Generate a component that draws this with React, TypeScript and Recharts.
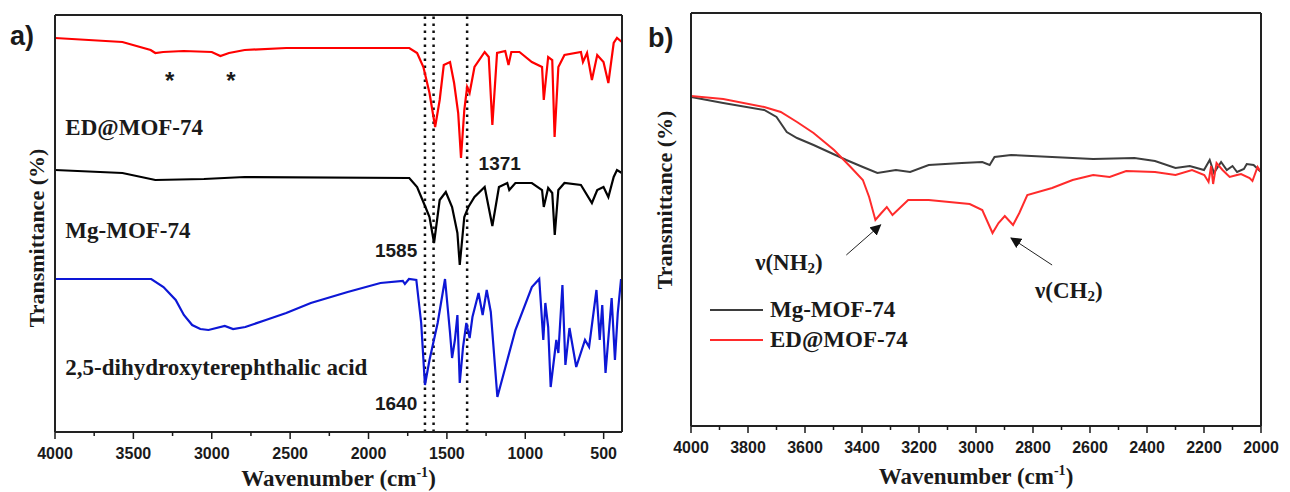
import React from "react";
import {
  LineChart,
  Line,
  XAxis,
  YAxis,
  ReferenceLine,
  ReferenceDot,
  Legend,
} from "recharts";

const SERIF = "'Liberation Serif', 'Times New Roman', serif";
const SANS = "'Liberation Sans', Arial, sans-serif";
const INK = "#1a1a1a";

// ---------- panel a: offset FTIR spectra (arbitrary transmittance units) ----------
const aDomain: [number, number] = [383, 4000];
const aYMax = 417;
const aMajorTicks = [4000, 3500, 3000, 2500, 2000, 1500, 1000, 500];
const aMinorTicks = [3750, 3250, 2750, 2250, 1750, 1250, 750];
const aMarkedBands = [1640, 1585, 1371];

const edWn = [4000, 3570, 3390, 3360, 3310, 3180, 3000, 2945, 2890, 2790, 2525, 2130, 1740, 1690, 1650, 1611, 1575, 1546, 1520, 1480, 1454, 1428, 1410, 1389, 1371, 1355, 1324, 1259, 1233, 1210, 1180, 1128, 1107, 1089, 1037, 958, 893, 882, 854, 828, 813, 789, 750, 645, 632, 606, 575, 541, 501, 470, 436, 415, 384];
const edT = [394, 390, 382, 379, 380, 381, 380, 376, 379, 382, 384, 384, 384, 379, 365, 339, 305, 332, 367, 370, 349, 319, 274, 322, 345, 339, 365, 380, 375, 307, 379, 381, 367, 380, 380, 370, 365, 332, 375, 372, 295, 365, 377, 380, 370, 379, 352, 377, 370, 349, 389, 394, 390];

const mgWn = [4000, 3570, 3360, 3050, 2790, 1740, 1690, 1637, 1611, 1582, 1546, 1507, 1467, 1433, 1418, 1389, 1363, 1324, 1259, 1210, 1168, 1115, 1102, 1063, 958, 893, 882, 854, 828, 812, 789, 750, 645, 575, 541, 501, 470, 436, 415, 384];
const mgT = [262, 259, 252, 253, 255, 254, 245, 225, 215, 189, 232, 240, 225, 199, 167, 215, 225, 235, 245, 206, 245, 249, 242, 249, 249, 242, 225, 244, 239, 197, 242, 249, 247, 229, 242, 245, 235, 255, 262, 259];

const acidWn = [4000, 3386, 3308, 3230, 3178, 3125, 3073, 3021, 2917, 2864, 2786, 2655, 2525, 2368, 2133, 1924, 1781, 1768, 1742, 1695, 1664, 1640, 1611, 1559, 1512, 1480, 1467, 1449, 1433, 1418, 1397, 1376, 1355, 1337, 1298, 1272, 1246, 1220, 1178, 1063, 958, 911, 885, 872, 854, 838, 802, 789, 763, 744, 718, 675, 619, 593, 546, 525, 509, 488, 449, 428, 410, 389];
const acidT = [153, 153, 145, 132, 117, 107, 103, 102, 106, 103, 105, 112, 119, 129, 140, 149, 151, 148, 153, 152, 109, 47, 72, 109, 153, 99, 74, 92, 117, 49, 85, 109, 94, 115, 139, 117, 142, 120, 35, 102, 145, 153, 92, 129, 105, 45, 92, 79, 147, 67, 104, 65, 92, 85, 142, 92, 127, 59, 134, 72, 119, 153];

// ---------- panel b: 4000-2000 cm-1 region ----------
const bDomain: [number, number] = [2000, 4000];
const bYDomain: [number, number] = [2, 415];
const bMajorTicks = [4000, 3800, 3600, 3400, 3200, 3000, 2800, 2600, 2400, 2200, 2000];
const bMinorTicks = [3900, 3700, 3500, 3300, 3100, 2900, 2700, 2500, 2300, 2100];
const bLegendOrder = ["Mg-MOF-74", "ED@MOF-74"];

const mgbWn = [4000, 3887, 3743, 3700, 3664, 3628, 3570, 3455, 3397, 3346, 3281, 3231, 3166, 3050, 2978, 2952, 2935, 2877, 2733, 2589, 2444, 2372, 2300, 2250, 2200, 2180, 2165, 2140, 2120, 2100, 2084, 2060, 2050, 2026, 2000];
const mgbT = [331, 325, 318, 311, 296, 290, 283, 268, 261, 255, 258, 256, 263, 265, 266, 263, 271, 273, 271, 269, 270, 267, 260, 262, 258, 268, 255, 266, 258, 262, 256, 259, 264, 263, 256];

const edbWn = [4000, 3887, 3743, 3685, 3628, 3570, 3498, 3440, 3397, 3375, 3353, 3332, 3313, 3293, 3238, 3166, 3094, 3022, 2978, 2942, 2921, 2899, 2870, 2848, 2820, 2733, 2661, 2589, 2531, 2473, 2372, 2300, 2242, 2199, 2184, 2175, 2168, 2156, 2135, 2110, 2084, 2070, 2040, 2030, 2012, 2000];
const edbT = [332, 329, 321, 316, 306, 295, 278, 261, 248, 231, 208, 215, 221, 213, 228, 228, 226, 224, 218, 195, 205, 212, 203, 215, 233, 240, 248, 253, 251, 257, 256, 253, 258, 253, 246, 262, 244, 265, 258, 251, 253, 254, 250, 247, 261, 256];

const zip = (wn: number[], t: number[]) => wn.map((w, i) => ({ wn: w, t: t[i] }));

const frameLine = { stroke: "#222222", strokeWidth: 2 };

function WaveTick(props: any) {
  const { x, y, payload, majors, labelDy } = props;
  const major = majors.includes(payload.value);
  return (
    <g>
      <line x1={x} x2={x} y1={y} y2={y + (major ? 7 : 4)} stroke={INK} strokeWidth={1.5} />
      {major && (
        <text x={x} y={y + labelDy} textAnchor="middle" fontFamily={SANS} fontWeight={700} fontSize={16} fill={INK}>
          {payload.value}
        </text>
      )}
    </g>
  );
}

function XTitle(props: any) {
  const { viewBox, dy } = props;
  const cx = viewBox.x + viewBox.width / 2;
  return (
    <text x={cx} y={viewBox.y + dy} textAnchor="middle" fontFamily={SERIF} fontWeight={700} fontSize={23} fill={INK}>
      Wavenumber (cm<tspan dy={-9} fontSize={14}>-1</tspan><tspan dy={9}>)</tspan>
    </text>
  );
}

function YTitle(props: any) {
  const { cx, cy } = props;
  return (
    <text
      x={cx}
      y={cy}
      transform={`rotate(-90 ${cx} ${cy})`}
      textAnchor="middle"
      dominantBaseline="central"
      fontFamily={SERIF}
      fontWeight={700}
      fontSize={22}
      fill={INK}
    >
      Transmittance (%)
    </text>
  );
}

const note = (text: React.ReactNode, opts: { anchor?: string; font?: string; size?: number; base?: string } = {}) =>
  (p: any) => (
    <text
      x={p.cx}
      y={p.cy}
      textAnchor={opts.anchor ?? "start"}
      dominantBaseline={opts.base ?? "central"}
      fontFamily={opts.font ?? SERIF}
      fontWeight={700}
      fontSize={opts.size ?? 23}
      fill={INK}
    >
      {text}
    </text>
  );

function PanelA() {
  return (
    <LineChart width={640} height={492} margin={{ top: 14, right: 17, bottom: 0, left: 0 }}>
      <XAxis
        dataKey="wn"
        type="number"
        domain={aDomain}
        reversed
        allowDataOverflow
        ticks={[...aMajorTicks, ...aMinorTicks]}
        interval={0}
        height={60}
        tickSize={0}
        tickMargin={0}
        tickLine={false}
        axisLine={frameLine}
        tick={(p: any) => <WaveTick {...p} majors={aMajorTicks} labelDy={27} />}
        label={<XTitle dy={54} />}
      />
      {/* top border */}
      <XAxis xAxisId="top" orientation="top" type="number" domain={aDomain} reversed allowDataOverflow height={1} tick={false} tickLine={false} axisLine={frameLine} />
      <YAxis
        type="number"
        domain={[0, aYMax]}
        allowDataOverflow
        width={55}
        tick={false}
        tickLine={false}
        axisLine={frameLine}
        label={<YTitle cx={36} cy={238} />}
      />
      {/* right border */}
      <YAxis yAxisId="right" orientation="right" type="number" domain={[0, aYMax]} width={1} tick={false} tickLine={false} axisLine={frameLine} />
      {aMarkedBands.map((b) => (
        <ReferenceLine key={b} x={b} stroke="#111" strokeWidth={2.5} strokeDasharray="2.5 4.5" />
      ))}
      <Line data={zip(edWn, edT)} dataKey="t" type="linear" stroke="#ff0000" strokeWidth={2.2} dot={false} isAnimationActive={false} />
      <Line data={zip(mgWn, mgT)} dataKey="t" type="linear" stroke="#000000" strokeWidth={2.2} dot={false} isAnimationActive={false} />
      <Line data={zip(acidWn, acidT)} dataKey="t" type="linear" stroke="#0d17d6" strokeWidth={2.2} dot={false} isAnimationActive={false} />
      <ReferenceDot x={3269} y={343} r={1} shape={note("*", { anchor: "middle", font: SANS, size: 24, base: "auto" })} />
      <ReferenceDot x={2877} y={343} r={1} shape={note("*", { anchor: "middle", font: SANS, size: 24, base: "auto" })} />
      <ReferenceDot x={3934} y={305} r={1} shape={note("ED@MOF-74")} />
      <ReferenceDot x={3934} y={202} r={1} shape={note("Mg-MOF-74")} />
      <ReferenceDot x={3934} y={65} r={1} shape={note("2,5-dihydroxyterephthalic acid")} />
      <ReferenceDot x={1298} y={269} r={1} shape={note("1371", { font: SANS, size: 19 })} />
      <ReferenceDot x={1689} y={182} r={1} shape={note("1585", { anchor: "end", font: SANS, size: 19 })} />
      <ReferenceDot x={1689} y={29} r={1} shape={note("1640", { anchor: "end", font: SANS, size: 19 })} />
    </LineChart>
  );
}

function SpectraLegend({ payload }: any) {
  const items = [...(payload ?? [])].sort(
    (a: any, b: any) => bLegendOrder.indexOf(a.value) - bLegendOrder.indexOf(b.value)
  );
  return (
    <div>
      {items.map((e: any) => (
        <div key={e.value} style={{ display: "flex", alignItems: "center", height: 30 }}>
          <span style={{ display: "inline-block", width: 53, height: 0, borderTop: `2.5px solid ${e.color}`, marginRight: 7 }} />
          <span style={{ font: `bold 23px ${SERIF}`, color: INK, whiteSpace: "nowrap" }}>{e.value}</span>
        </div>
      ))}
    </div>
  );
}

const nuLabel = (group: string) => (
  <>
    {"\u03bd(" + group}
    <tspan dy={6} fontSize={15}>2</tspan>
    <tspan dy={-6}>)</tspan>
  </>
);

function PanelB() {
  return (
    <LineChart width={650} height={492} margin={{ top: 12, right: 28, bottom: 0, left: 0 }}>
      <defs>
        <marker id="arrowHead" viewBox="0 0 10 10" refX="9" refY="5" markerWidth="11" markerHeight="11" markerUnits="userSpaceOnUse" orient="auto">
          <path d="M0,0 L10,5 L0,10 z" fill="#111" />
        </marker>
      </defs>
      <XAxis
        dataKey="wn"
        type="number"
        domain={bDomain}
        reversed
        allowDataOverflow
        ticks={[...bMajorTicks, ...bMinorTicks]}
        interval={0}
        height={66}
        tickSize={0}
        tickMargin={0}
        tickLine={false}
        axisLine={frameLine}
        tick={(p: any) => <WaveTick {...p} majors={bMajorTicks} labelDy={27} />}
        label={<XTitle dy={58} />}
      />
      <XAxis xAxisId="top" orientation="top" type="number" domain={bDomain} reversed allowDataOverflow height={1} tick={false} tickLine={false} axisLine={frameLine} />
      <YAxis
        type="number"
        domain={bYDomain}
        allowDataOverflow
        width={51}
        tick={false}
        tickLine={false}
        axisLine={frameLine}
        label={<YTitle cx={24} cy={200} />}
      />
      <YAxis yAxisId="right" orientation="right" type="number" domain={bYDomain} width={1} tick={false} tickLine={false} axisLine={frameLine} />
      <Line data={zip(mgbWn, mgbT)} dataKey="t" name="Mg-MOF-74" type="linear" stroke="#3d3d3d" strokeWidth={2} dot={false} isAnimationActive={false} />
      <Line data={zip(edbWn, edbT)} dataKey="t" name="ED@MOF-74" type="linear" stroke="#ff2b2b" strokeWidth={2} dot={false} isAnimationActive={false} />
      <ReferenceLine segment={[{ x: 3455, y: 173 }, { x: 3335, y: 203 }]} stroke="#222" strokeWidth={1} markerEnd="url(#arrowHead)" />
      <ReferenceLine segment={[{ x: 2733, y: 163 }, { x: 2877, y: 190 }]} stroke="#222" strokeWidth={1} markerEnd="url(#arrowHead)" />
      <ReferenceDot x={3775} y={166} r={1} shape={note(nuLabel("NH"))} />
      <ReferenceDot x={2793} y={138} r={1} shape={note(nuLabel("CH"))} />
      <Legend
        layout="vertical"
        align="center"
        verticalAlign="middle"
        content={<SpectraLegend />}
        wrapperStyle={{ left: 70, top: 295, width: 260 }}
      />
    </LineChart>
  );
}

export default function App() {
  return (
    <div style={{ position: "absolute", left: 0, top: 0, width: 1290, height: 492, background: "#fff" }}>
      <div style={{ position: "absolute", left: 0, top: 0 }}>
        <PanelA />
      </div>
      <div style={{ position: "absolute", left: 640, top: 0 }}>
        <PanelB />
      </div>
      <div style={{ position: "absolute", left: 10, top: 23, font: `bold 27px ${SANS}`, lineHeight: "27px", color: INK }}>a)</div>
      <div style={{ position: "absolute", left: 648, top: 25, font: `bold 27px ${SANS}`, lineHeight: "27px", color: INK }}>b)</div>
    </div>
  );
}
